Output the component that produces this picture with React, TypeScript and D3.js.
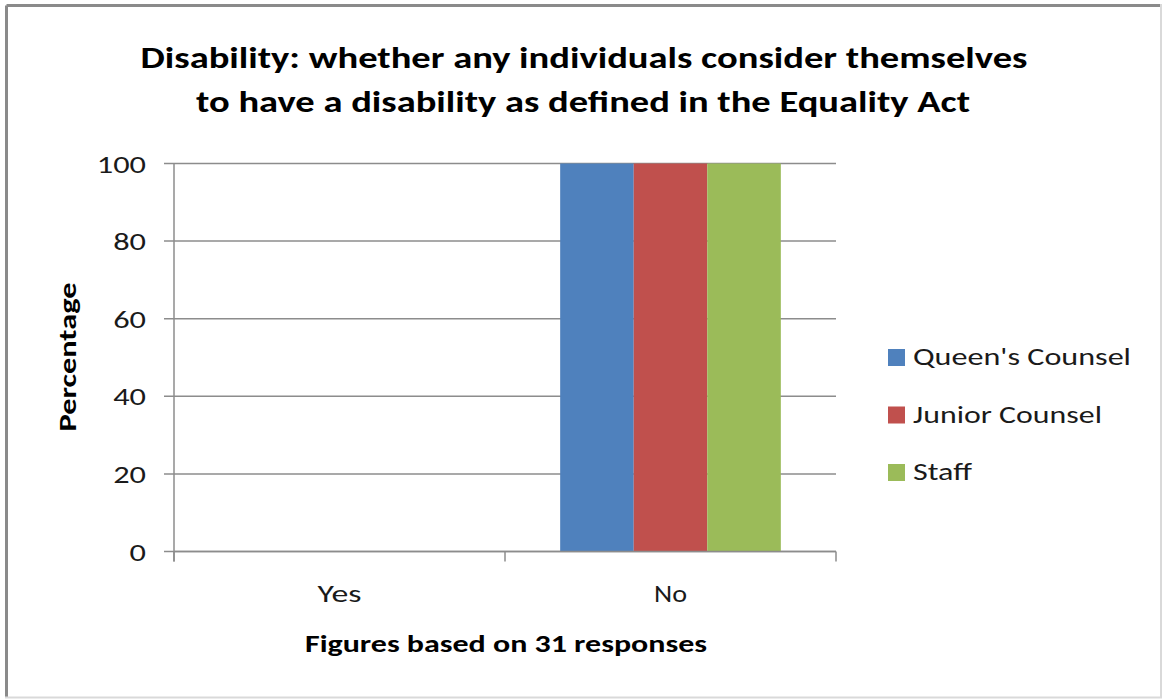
import React from "react";
import * as d3 from "d3";

const categories = ["Yes", "No"];
const seriesNames = ["Queen's Counsel", "Junior Counsel", "Staff"];
const queensCounsel = [0, 100];
const juniorCounsel = [0, 100];
const staff = [0, 100];
const seriesColors = ["#4f81bd", "#c0504d", "#9bbb59"];
const yTicks = [0, 20, 40, 60, 80, 100];
const titleLines = [
  "Disability: whether any individuals consider themselves",
  "to have a disability as defined in the Equality Act",
];
const yTitle = "Percentage";
const xTitle = "Figures based on 31 responses";

const FONT = "Carlito, Calibri, Lato, 'Open Sans', sans-serif";

// approximate rendered widths of the reference text (px)
const legendWidths = [218, 189, 59];
const catWidths = [44, 33];
const DIGIT_W = 16.4;

export default function App() {
  const W = 1163;
  const H = 699;
  const plot = { left: 174, right: 836, top: 163.5, bottom: 551.5 };
  const seriesValues = [queensCounsel, juniorCounsel, staff];

  const x = d3.scaleBand<string>().domain(categories).range([plot.left, plot.right]).padding(0);
  const bw = x.bandwidth();
  const barW = bw / 4.5; // gap width 150%
  const gap = barW * 0.75;
  const xs = d3.scaleBand<string>().domain(seriesNames).range([gap, bw - gap]).padding(0);
  const y = d3.scaleLinear().domain([0, 100]).range([plot.bottom, plot.top]);

  const grid = "#8c8c8c";
  const txt = "#1a1a1a";

  return (
    <svg
      width={W}
      height={H}
      style={{ position: "absolute", left: 0, top: 0, background: "#fff" }}
      fontFamily={FONT}
    >
      <rect x={0} y={0} width={W} height={H} fill="#fff" />
      {/* chart border */}
      <line x1={6.5} y1={5.5} x2={1160} y2={5.5} stroke="#8a8a8a" strokeWidth={3} />
      <line x1={6.5} y1={5.5} x2={6.5} y2={697} stroke="#8a8a8a" strokeWidth={3} />
      <line x1={1161} y1={4} x2={1161} y2={698} stroke="#d9d9d9" strokeWidth={2} />
      <line x1={5} y1={697.5} x2={1162} y2={697.5} stroke="#d9d9d9" strokeWidth={2} />

      {/* title */}
      <text x={584} y={68} textAnchor="middle" fontSize={30} fontWeight="bold" fill="#000"
        textLength={887} lengthAdjust="spacingAndGlyphs">{titleLines[0]}</text>
      <text x={583} y={112} textAnchor="middle" fontSize={30} fontWeight="bold" fill="#000"
        textLength={774} lengthAdjust="spacingAndGlyphs">{titleLines[1]}</text>

      {/* gridlines & y ticks */}
      {yTicks.map((t) => (
        <g key={t}>
          <line x1={plot.left - 10} x2={plot.right} y1={y(t)} y2={y(t)} stroke={grid} strokeWidth={1.5} />
          <text x={146} y={y(t) + 9} textAnchor="end" fontSize={25} fill={txt}
            textLength={String(t).length * DIGIT_W} lengthAdjust="spacingAndGlyphs">{t}</text>
        </g>
      ))}

      {/* y axis line */}
      <line x1={plot.left} x2={plot.left} y1={plot.top} y2={plot.bottom + 10} stroke={grid} strokeWidth={1.5} />

      {/* bars */}
      {categories.map((c, ci) => (
        <g key={c} transform={`translate(${x(c)},0)`}>
          {seriesNames.map((s, si) => {
            const v = seriesValues[si][ci];
            return v > 0 ? (
              <rect key={s} x={xs(s)} y={y(v)} width={xs.bandwidth()} height={y(0) - y(v)} fill={seriesColors[si]} />
            ) : null;
          })}
        </g>
      ))}

      {/* x axis */}
      <line x1={plot.left} x2={plot.right} y1={plot.bottom} y2={plot.bottom} stroke={grid} strokeWidth={1.5} />
      {[plot.left, ...categories.map((c) => (x(c) as number) + bw)].map((px, i) => (
        <line key={i} x1={px} x2={px} y1={plot.bottom} y2={plot.bottom + 10} stroke={grid} strokeWidth={1.5} />
      ))}
      {categories.map((c, i) => (
        <text key={c} x={(x(c) as number) + bw / 2} y={602} textAnchor="middle" fontSize={25} fill={txt}
          textLength={catWidths[i]} lengthAdjust="spacingAndGlyphs">{c}</text>
      ))}

      {/* axis titles */}
      <text x={506} y={652} textAnchor="middle" fontSize={25} fontWeight="bold" fill="#000"
        textLength={402} lengthAdjust="spacingAndGlyphs">{xTitle}</text>
      <text transform={`translate(76,357) rotate(-90)`} textAnchor="middle" fontSize={25} fontWeight="bold" fill="#000"
        textLength={149} lengthAdjust="spacingAndGlyphs">{yTitle}</text>

      {/* legend */}
      {seriesNames.map((s, i) => (
        <g key={s} transform={`translate(888,${349 + i * 57.5})`}>
          <rect x={0} y={0} width={17} height={17} fill={seriesColors[i]} />
          <text x={25} y={16} fontSize={25} fill={txt}
            textLength={legendWidths[i]} lengthAdjust="spacingAndGlyphs">{s}</text>
        </g>
      ))}
    </svg>
  );
}
